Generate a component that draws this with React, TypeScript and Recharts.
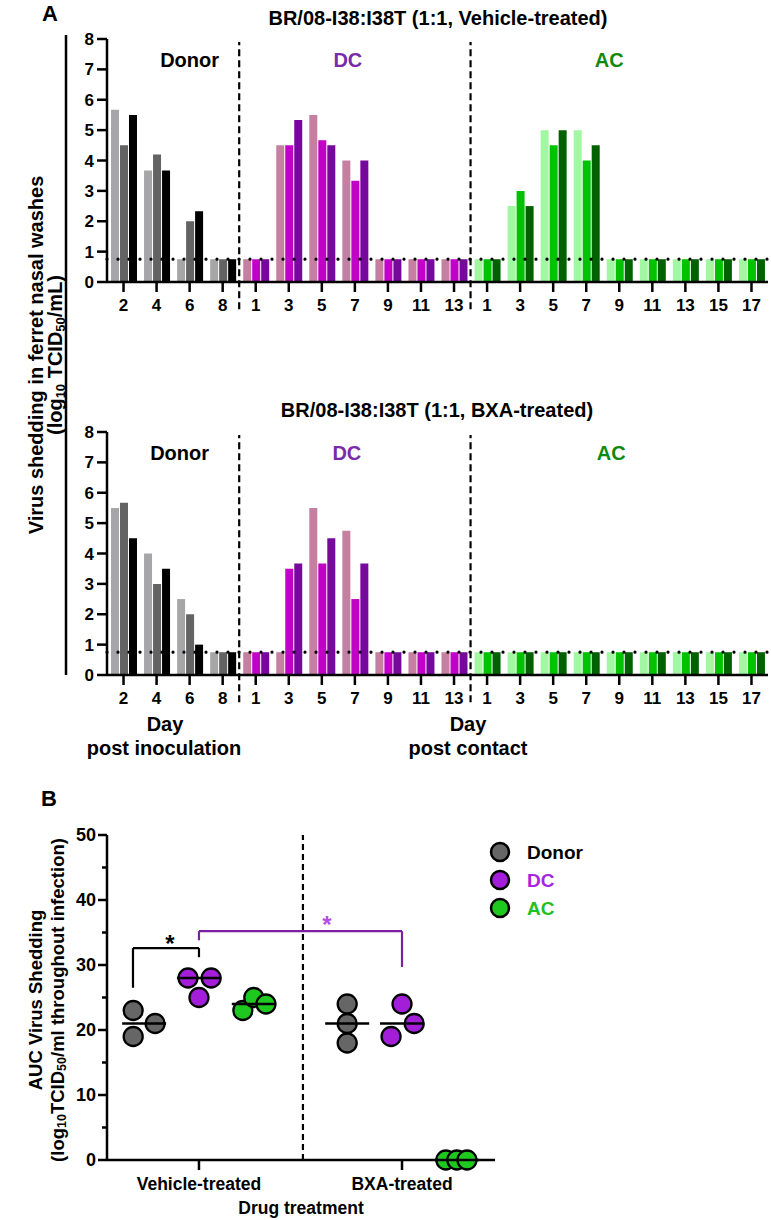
import React from "react";
import {
  BarChart,
  Bar,
  Cell,
  XAxis,
  YAxis,
  ReferenceLine,
  ReferenceDot,
  ScatterChart,
  Scatter,
} from "recharts";

const FONT = '"Liberation Sans", Arial, Helvetica, sans-serif';

// ---- panel A: nasal wash titers (log10 TCID50/mL), one row per ferret ----
const DONOR_DAYS = [2, 4, 6, 8];
const DC_DAYS = [1, 3, 5, 7, 9, 11, 13];
const AC_DAYS = [1, 3, 5, 7, 9, 11, 13, 15, 17];
const LOD = 0.75;

const VEH_DONOR = [
  [5.67, 3.67, 0.75, 0.75],
  [4.5, 4.2, 2.0, 0.75],
  [5.5, 3.67, 2.33, 0.75],
];
const VEH_DC = [
  [0.75, 4.5, 5.5, 4.0, 0.75, 0.75, 0.75],
  [0.75, 4.5, 4.67, 3.33, 0.75, 0.75, 0.75],
  [0.75, 5.33, 4.5, 4.0, 0.75, 0.75, 0.75],
];
const VEH_AC = [
  [0.75, 2.5, 5.0, 5.0, 0.75, 0.75, 0.75, 0.75, 0.75],
  [0.75, 3.0, 4.5, 4.0, 0.75, 0.75, 0.75, 0.75, 0.75],
  [0.75, 2.5, 5.0, 4.5, 0.75, 0.75, 0.75, 0.75, 0.75],
];
const BXA_DONOR = [
  [5.5, 4.0, 2.5, 0.75],
  [5.67, 3.0, 2.0, 0.75],
  [4.5, 3.5, 1.0, 0.75],
];
const BXA_DC = [
  [0.75, 0.75, 5.5, 4.75, 0.75, 0.75, 0.75],
  [0.75, 3.5, 3.67, 2.5, 0.75, 0.75, 0.75],
  [0.75, 3.67, 4.5, 3.67, 0.75, 0.75, 0.75],
];
const BXA_AC = [
  [0.75, 0.75, 0.75, 0.75, 0.75, 0.75, 0.75, 0.75, 0.75],
  [0.75, 0.75, 0.75, 0.75, 0.75, 0.75, 0.75, 0.75, 0.75],
  [0.75, 0.75, 0.75, 0.75, 0.75, 0.75, 0.75, 0.75, 0.75],
];

// ---- panel B: AUC of virus shedding ----
const TREATMENTS = ["Vehicle-treated", "BXA-treated"];
const AUC_VEH_DONOR = [23, 19, 21];
const AUC_VEH_DC = [28, 28, 25];
const AUC_VEH_AC = [23, 25, 24];
const AUC_BXA_DONOR = [24, 21, 18];
const AUC_BXA_DC = [24, 21, 19];
const AUC_BXA_AC = [0, 0, 0];
const MEDIAN_VEH = [21, 28, 24];
const MEDIAN_BXA = [21, 21, 0];

const BAR_COLORS: Record<string, string[]> = {
  donor: ["#a6a6a9", "#636363", "#000000"],
  dc: ["#c57fa1", "#c200c8", "#76089c"],
  ac: ["#a2f7a2", "#00c200", "#006100"],
};
const GROUPS = [
  { key: "donor", name: "Donor", fill: "#666666", text: "#000000" },
  { key: "dc", name: "DC", fill: "#a31ed9", text: "#a524e0" },
  { key: "ac", name: "AC", fill: "#1fc81f", text: "#20c020" },
];
const LABEL_COLORS = { donor: "#000000", dc: "#7a2ba8", ac: "#0f8a0f" };

// horizontal placement inside each treatment (axis units)
const GROUP_OFFSET = [-0.27, 0, 0.27];
const JITTER_VEH = [
  [-0.054, -0.054, 0.054],
  [-0.054, 0.06, 0],
  [-0.054, 0, 0.06],
];
const JITTER_BXA = [
  [0, 0, 0],
  [0, 0.06, -0.054],
  [-0.054, 0, 0.05],
];

const buildRows = (donor: number[][], dc: number[][], ac: number[][]) => {
  const groups: [string, number[], number[][]][] = [
    ["donor", DONOR_DAYS, donor],
    ["dc", DC_DAYS, dc],
    ["ac", AC_DAYS, ac],
  ];
  return groups.flatMap(([group, days, vals]) =>
    days.map((day, i) => ({
      key: `${group}-${day}`,
      group,
      day,
      f0: vals[0][i],
      f1: vals[1][i],
      f2: vals[2][i],
    }))
  );
};

const GroupLabel = ({ viewBox, text, color, dx }: any) => (
  <text
    x={viewBox.x + dx}
    y={viewBox.y}
    textAnchor="middle"
    dominantBaseline="central"
    fill={color}
    fontSize={20}
    fontWeight={700}
    fontFamily={FONT}
  >
    {text}
  </text>
);

const axisStyle = { stroke: "#000", strokeWidth: 2.5 };
const tickFont = { fill: "#000", fontSize: 17, fontWeight: 700, fontFamily: FONT };

function SheddingPanel({ top, donor, dc, ac, shifts }: any) {
  const data = buildRows(donor, dc, ac);
  return (
    <div style={{ position: "absolute", left: 0, top, width: 771, height: 320 }}>
      <BarChart
        width={771}
        height={320}
        data={data}
        margin={{ top: 39, right: 3, bottom: 0, left: 0 }}
        barCategoryGap={4}
        barGap={1}
      >
        <XAxis
          dataKey="key"
          interval={0}
          height={38}
          tickFormatter={(k: string) => k.split("-")[1]}
          axisLine={axisStyle}
          tickLine={axisStyle}
          tickSize={10}
          tickMargin={7}
          tick={tickFont}
        />
        <YAxis
          type="number"
          domain={[0, 8]}
          ticks={[0, 1, 2, 3, 4, 5, 6, 7, 8]}
          width={107}
          axisLine={axisStyle}
          tickLine={axisStyle}
          tickSize={10}
          tickMargin={3}
          tick={tickFont}
        />
        {[0, 1, 2].map((f) => (
          <Bar key={f} dataKey={`f${f}`} isAnimationActive={false}>
            {data.map((r) => (
              <Cell key={r.key} fill={BAR_COLORS[r.group][f]} />
            ))}
          </Bar>
        ))}
        <ReferenceLine
          y={LOD}
          stroke="#000"
          strokeWidth={3.2}
          strokeDasharray="0 11"
          strokeLinecap="round"
        />
        {["donor-8", "dc-13"].map((k) => (
          <ReferenceLine
            key={k}
            segment={[
              { x: k, y: -0.9 },
              { x: k, y: 7.9 },
            ]}
            position="end"
            ifOverflow="visible"
            stroke="#000"
            strokeWidth={2.2}
            strokeDasharray="7 4"
          />
        ))}
        <ReferenceDot x="donor-6" y={7.3} r={0} label={<GroupLabel text="Donor" color={LABEL_COLORS.donor} dx={shifts[0]} />} />
        <ReferenceDot x="dc-7" y={7.3} r={0} label={<GroupLabel text="DC" color={LABEL_COLORS.dc} dx={shifts[1]} />} />
        <ReferenceDot x="ac-9" y={7.3} r={0} label={<GroupLabel text="AC" color={LABEL_COLORS.ac} dx={shifts[2]} />} />
      </BarChart>
    </div>
  );
}

const YTickB = ({ x, y, payload }: any) => {
  const major = payload.value % 10 === 0;
  const ax = x + 11;
  return (
    <g>
      <line x1={ax} x2={ax - (major ? 9 : 5)} y1={y} y2={y} stroke="#000" strokeWidth={2.5} />
      {major && (
        <text x={x} y={y} textAnchor="end" dominantBaseline="central" {...tickFont} fontSize={18}>
          {payload.value}
        </text>
      )}
    </g>
  );
};

const Dot = (fill: string) => (p: any) => (
  <circle cx={p.cx} cy={p.cy} r={9.5} fill={fill} stroke="#000" strokeWidth={2.3} />
);
const MedianBar = (p: any) => (
  <line x1={p.cx - 22} x2={p.cx + 22} y1={p.cy} y2={p.cy} stroke="#000" strokeWidth={2.5} />
);
const Star = ({ viewBox, color }: any) => (
  <text
    x={viewBox.x}
    y={viewBox.y + 6}
    textAnchor="middle"
    dominantBaseline="central"
    fill={color}
    fontSize={24}
    fontWeight={700}
    fontFamily={FONT}
  >
    *
  </text>
);

// bracket annotations in axis units
const BRACKET_BLACK = [
  [0.675, 26.5],
  [0.675, 32.6],
  [1, 32.6],
  [1, 31.2],
];
const BRACKET_PURPLE = [
  [1, 33.8],
  [1, 35.2],
  [2, 35.2],
  [2, 29.7],
];

const bracketLines = (pts: number[][], color: string, id: string) =>
  pts.slice(1).map((p, i) => (
    <ReferenceLine
      key={`${id}-${i}`}
      segment={[
        { x: pts[i][0], y: pts[i][1] },
        { x: p[0], y: p[1] },
      ]}
      ifOverflow="visible"
      stroke={color}
      strokeWidth={2.2}
    />
  ));

function AucPanel() {
  const veh = [AUC_VEH_DONOR, AUC_VEH_DC, AUC_VEH_AC];
  const bxa = [AUC_BXA_DONOR, AUC_BXA_DC, AUC_BXA_AC];
  const series = GROUPS.map((g, gi) => [
    ...veh[gi].map((y, j) => ({ x: 1 + GROUP_OFFSET[gi] + JITTER_VEH[gi][j], y })),
    ...bxa[gi].map((y, j) => ({ x: 2 + GROUP_OFFSET[gi] + JITTER_BXA[gi][j], y })),
  ]);
  const medians = [
    ...MEDIAN_VEH.map((y, gi) => ({ x: 1 + GROUP_OFFSET[gi], y })),
    ...MEDIAN_BXA.map((y, gi) => ({ x: 2 + GROUP_OFFSET[gi], y })),
  ];
  return (
    <div style={{ position: "absolute", left: 0, top: 800, width: 771, height: 420 }}>
      <ScatterChart width={771} height={420} margin={{ top: 35, right: 276, bottom: 0, left: 0 }}>
        <XAxis
          type="number"
          dataKey="x"
          domain={[0.547, 2.458]}
          allowDataOverflow
          ticks={[1, 2]}
          tickFormatter={(v: number) => TREATMENTS[v - 1]}
          height={60}
          axisLine={axisStyle}
          tickLine={axisStyle}
          tickSize={10}
          tickMargin={8}
          tick={{ ...tickFont, fontSize: 17.5 }}
        />
        <YAxis
          type="number"
          dataKey="y"
          domain={[0, 50]}
          ticks={[0, 5, 10, 15, 20, 25, 30, 35, 40, 45, 50]}
          width={107}
          axisLine={axisStyle}
          tickLine={false}
          tickSize={9}
          tickMargin={2}
          tick={<YTickB />}
        />
        <ReferenceLine x={1.512} stroke="#000" strokeWidth={2.2} strokeDasharray="6 4" />
        {bracketLines(BRACKET_BLACK, "#000000", "bk")}
        {bracketLines(BRACKET_PURPLE, "#7d1fa5", "pp")}
        <ReferenceDot x={0.857} y={34.3} r={0} label={<Star color="#000000" />} />
        <ReferenceDot x={1.63} y={37.2} r={0} label={<Star color="#b44ce6" />} />
        {GROUPS.map((g, gi) => (
          <Scatter key={g.key} name={g.name} data={series[gi]} shape={Dot(g.fill)} isAnimationActive={false} />
        ))}
        <Scatter name="median" data={medians} shape={MedianBar} isAnimationActive={false} />
      </ScatterChart>
    </div>
  );
}

const txt = { fontFamily: FONT, fontWeight: 700, fill: "#000" } as const;

export default function App() {
  return (
    <div style={{ position: "absolute", left: 0, top: 0, width: 771, height: 1220, background: "#fff" }}>
      <SheddingPanel top={0} donor={VEH_DONOR} dc={VEH_DC} ac={VEH_AC} shifts={[0, -7, -10]} />
      <SheddingPanel top={393} donor={BXA_DONOR} dc={BXA_DC} ac={BXA_AC} shifts={[-10, -8, -8]} />
      <AucPanel />
      <svg
        width={771}
        height={1220}
        style={{ position: "absolute", left: 0, top: 0, pointerEvents: "none" }}
      >
        <text x={50} y={13} {...txt} fontSize={22} textAnchor="middle" dominantBaseline="central">A</text>
        <text x={438} y={18} {...txt} fontSize={20} textAnchor="middle" dominantBaseline="central">
          BR/08-I38:I38T (1:1, Vehicle-treated)
        </text>
        <text x={437} y={410} {...txt} fontSize={20} textAnchor="middle" dominantBaseline="central">
          BR/08-I38:I38T (1:1, BXA-treated)
        </text>
        <line x1={66} x2={66} y1={35} y2={675} stroke="#000" strokeWidth={2.5} />
        <text transform="translate(36,355) rotate(-90)" {...txt} fontSize={20} textAnchor="middle" dominantBaseline="central">
          Virus shedding in ferret nasal washes
        </text>
        <text transform="translate(55,355) rotate(-90)" {...txt} fontSize={20} textAnchor="middle" dominantBaseline="central">
          (log<tspan fontSize={13} dy={5}>10</tspan>
          <tspan dy={-5}> TCID</tspan>
          <tspan fontSize={13} dy={5}>50</tspan>
          <tspan dy={-5}>/mL)</tspan>
        </text>
        <text x={165} y={724} {...txt} fontSize={20} textAnchor="middle" dominantBaseline="central">Day</text>
        <text x={164} y={748} {...txt} fontSize={20} textAnchor="middle" dominantBaseline="central">post inoculation</text>
        <text x={468} y={724} {...txt} fontSize={20} textAnchor="middle" dominantBaseline="central">Day</text>
        <text x={468} y={748} {...txt} fontSize={20} textAnchor="middle" dominantBaseline="central">post contact</text>

        <text x={49} y={798} {...txt} fontSize={22} textAnchor="middle" dominantBaseline="central">B</text>
        <text transform="translate(35,1000) rotate(-90)" {...txt} fontSize={18.5} textAnchor="middle" dominantBaseline="central">
          AUC Virus Shedding
        </text>
        <text transform="translate(57,1000) rotate(-90)" {...txt} fontSize={18.5} textAnchor="middle" dominantBaseline="central">
          (log<tspan fontSize={12.5} dy={5}>10</tspan>
          <tspan dy={-5}>TCID</tspan>
          <tspan fontSize={12.5} dy={5}>50</tspan>
          <tspan dy={-5}>/ml throughout infection)</tspan>
        </text>
        <text x={301} y={1208} {...txt} fontSize={17.5} textAnchor="middle" dominantBaseline="central">Drug treatment</text>

        {GROUPS.map((g, i) => (
          <g key={g.key}>
            <circle cx={500} cy={852 + i * 28} r={9} fill={g.fill} stroke="#000" strokeWidth={2.5} />
            <text x={527} y={852 + i * 28} {...txt} fill={g.text} fontSize={19} dominantBaseline="central">
              {g.name}
            </text>
          </g>
        ))}
      </svg>
    </div>
  );
}
